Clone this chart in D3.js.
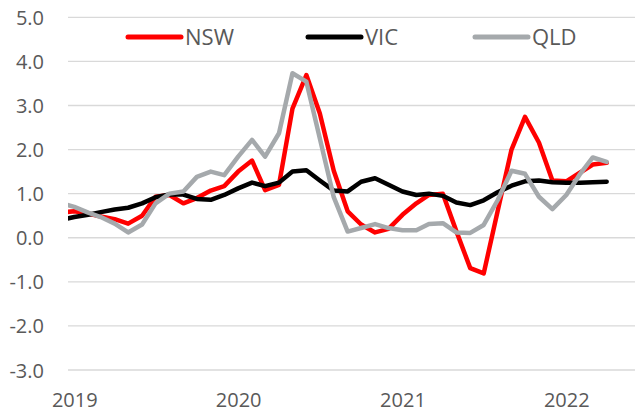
<!DOCTYPE html>
<html>
<head>
<meta charset="utf-8">
<script src="https://cdn.jsdelivr.net/npm/d3@7"></script>
<style>
  html, body { margin: 0; padding: 0; background: #fff; }
  svg { display: block; }
  text { font-family: "Open Sans", "Noto Sans", sans-serif; fill: #595959; }
</style>
</head>
<body>
<svg id="chart" width="635" height="412"></svg>
<script>
// ---- data ----
const months = d3.timeMonth.range(new Date(2018, 11, 1), new Date(2022, 4, 1)); // Dec 2018 .. Apr 2022
const nsw = [0.57, 0.60, 0.55, 0.48, 0.42, 0.32, 0.50, 0.93, 0.97, 0.78,
             0.90, 1.07, 1.17, 1.50, 1.75, 1.08, 1.20, 2.93, 3.69, 2.82,
             1.52, 0.60, 0.30, 0.12, 0.20, 0.52, 0.78, 0.97, 1.00, 0.15,
             -0.69, -0.81, 0.60, 2.00, 2.74, 2.16, 1.30, 1.28, 1.48, 1.66, 1.70];
const vic = [0.40, 0.47, 0.52, 0.58, 0.64, 0.68, 0.78, 0.92, 0.98, 0.98,
             0.88, 0.86, 0.97, 1.12, 1.25, 1.17, 1.25, 1.50, 1.53, 1.30,
             1.07, 1.05, 1.27, 1.35, 1.20, 1.05, 0.97, 1.00, 0.95, 0.80,
             0.74, 0.85, 1.03, 1.18, 1.28, 1.30, 1.26, 1.25, 1.25, 1.26, 1.27];
const qld = [0.79, 0.70, 0.57, 0.47, 0.32, 0.12, 0.30, 0.78, 1.00, 1.05,
             1.38, 1.50, 1.42, 1.84, 2.22, 1.84, 2.37, 3.73, 3.54, 2.25,
             0.92, 0.14, 0.22, 0.31, 0.22, 0.17, 0.17, 0.31, 0.33, 0.12,
             0.11, 0.29, 0.85, 1.52, 1.45, 0.93, 0.65, 0.97, 1.45, 1.82, 1.72];
const seriesNames = ["NSW", "VIC", "QLD"];
const seriesColors = ["#ff0000", "#000000", "#a5a9ac"];
const yTicks = [-3, -2, -1, 0, 1, 2, 3, 4, 5];
const xTickLabels = ["2019", "2020", "2021", "2022"];

// ---- layout ----
const svg = d3.select("#chart");
const plotLeft = 68, plotRight = 635, plotTop = 17.3, plotBottom = 370;

const x = d3.scaleTime()
  .domain([new Date(2018, 11, 18), new Date(2022, 0, 1)])
  .range([plotLeft, 566.3]);
const y = d3.scaleLinear().domain([-3, 5]).range([plotBottom, plotTop]);

// gridlines
svg.append("g").selectAll("line").data(yTicks).join("line")
  .attr("x1", plotLeft).attr("x2", plotRight)
  .attr("y1", d => y(d)).attr("y2", d => y(d))
  .attr("stroke", "#d9d9d9").attr("stroke-width", 1.3);

// y axis labels
const yAxis = d3.axisLeft(y).tickValues(yTicks).tickFormat(d => d.toFixed(1)).tickSize(0).tickPadding(0);
const gy = svg.append("g").attr("transform", "translate(44,0)").call(yAxis);
gy.select(".domain").remove();
gy.selectAll("text").style("font-family", '"Open Sans", sans-serif').style("font-size", "20px").attr("fill", "#595959").attr("dy", "0.35em");

// x axis labels
const xAxis = d3.axisBottom(x)
  .tickValues(xTickLabels.map(s => new Date(+s, 0, 1)))
  .tickFormat((d, i) => xTickLabels[i]).tickSize(0).tickPadding(0);
const gx = svg.append("g").attr("transform", "translate(0,393)").call(xAxis);
gx.select(".domain").remove();
gx.selectAll("text").style("font-family", '"Open Sans", sans-serif').style("font-size", "20px").attr("fill", "#595959").attr("dy", "0.71em");

// clip
svg.append("clipPath").attr("id", "plotclip").append("rect")
  .attr("x", plotLeft).attr("y", 0).attr("width", plotRight - plotLeft).attr("height", 412);

const line = d3.line().x((d, i) => x(months[i])).y(d => y(d));
const allSeries = [nsw, vic, qld];
svg.append("g").attr("clip-path", "url(#plotclip)")
  .selectAll("path").data(allSeries).join("path")
  .attr("d", d => line(d))
  .attr("fill", "none")
  .attr("stroke", (d, i) => seriesColors[i])
  .attr("stroke-width", 4.5)
  .attr("stroke-linejoin", "round")
  .attr("stroke-linecap", "round");

// legend
const legendX = [128, 308, 475];
const lg = svg.append("g").selectAll("g").data(seriesNames).join("g")
  .attr("transform", (d, i) => `translate(${legendX[i]},37)`);
lg.append("line").attr("x1", 0).attr("x2", 53).attr("y1", 0).attr("y2", 0)
  .attr("stroke", (d, i) => seriesColors[i]).attr("stroke-width", 5).attr("stroke-linecap", "round");
lg.append("text").attr("x", 57).attr("y", 0).attr("dy", "0.36em")
  .style("font-size", "22px").text(d => d);
</script>
</body>
</html>
